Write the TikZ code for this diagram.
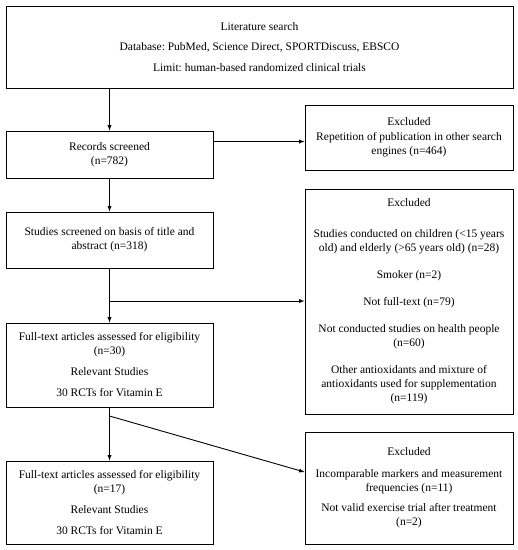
\documentclass[tikz,border=0pt]{standalone}
\usepackage{fontspec}
\setmainfont{Liberation Serif}
\usepackage{tikz}
\usetikzlibrary{positioning}
\usetikzlibrary{arrows, calc}
\frenchspacing

\begin{document}
\begin{tikzpicture}[x=1pt, y=-1pt, >=latex,
        stagebox/.style={draw, line width=0.9pt, align=center, inner sep=0pt,
            minimum width=207pt, font=\fontsize{11.5}{14}\selectfont},
        flow/.style={->, line width=0.9pt}]
        \useasboundingbox (0,0) rectangle (518,550);
        % left column
        \node[stagebox, minimum width=507pt, minimum height=82pt] (search) at (259.5,47) {
            Literature search \\[6.5pt]
            Database: PubMed, Science Direct, SPORTDiscuss, EBSCO \\[6.5pt]
            Limit: human-based randomized clinical trials
        };
        \node[stagebox, minimum height=47pt] (records) at (109.5,154.5) {
            Records screened \\
            (n=782)
        };
        \node[stagebox, minimum height=56pt] (studies) at (109.5,240) {
            Studies screened on basis of title and \\
            abstract (n=318)
        };
        \node[stagebox, minimum height=84pt] (fulla) at (109.5,365) {
            Full-text articles assessed for eligibility \\
            (n=30) \\[7pt]
            Relevant Studies \\[7pt]
            30 RCTs for Vitamin E
        };
        \node[stagebox, minimum height=83pt] (fullb) at (109.5,502.5) {
            Full-text articles assessed for eligibility \\
            (n=17) \\[7pt]
            Relevant Studies \\[7pt]
            30 RCTs for Vitamin E
        };
        % right column
        \node[stagebox, minimum width=208pt, minimum height=65pt] (exca) at (409,137.5) {
            Excluded \\[1pt]
            Repetition of publication in other search \\
            engines (n=464)
        };
        \node[stagebox, minimum width=208pt, minimum height=225pt] (excb) at (409,301.5) {
            Excluded \\[17pt]
            Studies conducted on children (<15 years \\
            old) and elderly (>65 years old) (n=28) \\[13pt]
            Smoker (n=2) \\[13pt]
            Not full-text (n=79) \\[13pt]
            Not conducted studies on health people \\
            (n=60) \\[13pt]
            Other antioxidants and mixture of \\
            antioxidants used for supplementation \\
            (n=119)
        };
        \node[stagebox, minimum width=208pt, minimum height=112pt] (excc) at (409,488) {
            Excluded \\[8pt]
            Incomparable markers and measurement \\
            frequencies (n=11) \\[6pt]
            Not valid exercise trial after treatment \\
            (n=2)
        };
        % connectors
        \draw[flow] (search.south -| records.north) -- (records.north);
        \draw[flow] ([yshift=-11pt]records.north east) coordinate (ra) -- (ra -| exca.west);
        \draw[flow] (records.south) -- (studies.north);
        \draw[flow] (studies.south) -- (fulla.north);
        \coordinate (sa) at (109.5,301);
        \draw[flow] (sa) -- (sa -| excb.west);
        \draw[flow] (fulla.south) -- (fullb.north);
        \coordinate (sb) at (109.5,416);
        \draw[flow] (sb) -- ([yshift=16pt]excc.west);
\end{tikzpicture}
\end{document}
